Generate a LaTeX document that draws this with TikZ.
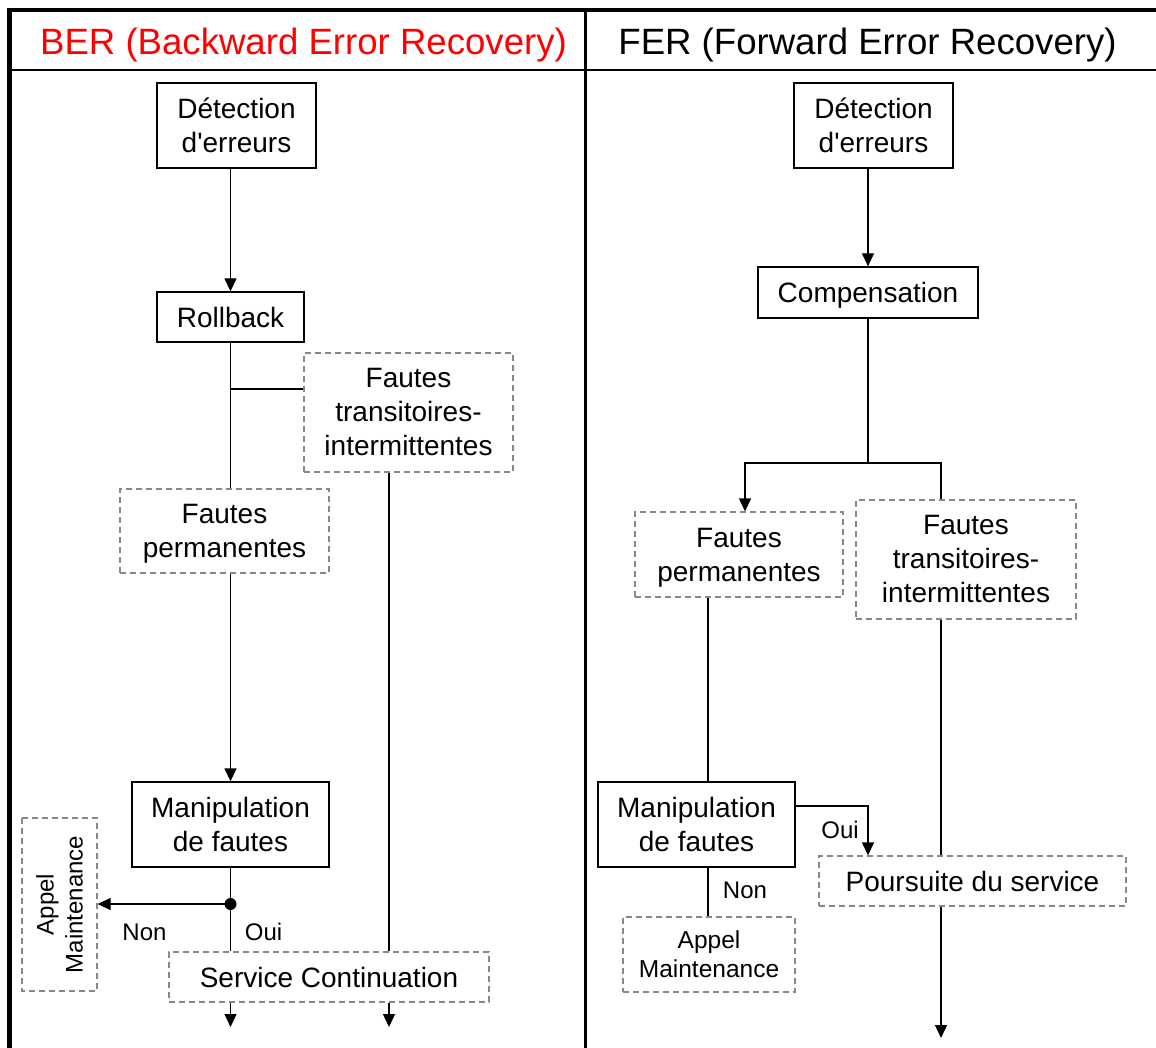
\documentclass[tikz,border=0pt]{standalone}
\usepackage{fontspec}
\setmainfont{Liberation Sans}[Ligatures=TeXOff]
\usetikzlibrary{arrows.meta}
\definecolor{dashgray}{HTML}{888888}
\begin{document}
\begin{tikzpicture}[x=1pt,y=-1pt,
  solidbox/.style={draw=black, line width=1.3pt, inner sep=0pt, align=center, font=\fontsize{28}{34}\selectfont},
  dashbox/.style={draw=dashgray, line width=1.3pt, dash pattern=on 6pt off 4pt, inner sep=0pt, align=center, font=\fontsize{28}{34}\selectfont},
  conn/.style={line width=1.3pt},
  arr/.style={conn, -{Triangle[length=13pt,width=12pt]}},
  lbl/.style={inner sep=0pt, font=\fontsize{24}{29}\selectfont},
  titletxt/.style={anchor=base, inner sep=0pt, font=\fontsize{36.6}{44}\selectfont}]
\useasboundingbox (0,0) rectangle (1156,1048);
\fill[white] (0,0) rectangle (1156,1048);
% frame
\draw[line width=4pt] (7,10) -- (1156,10);
\draw[line width=4.5pt] (9.5,8) -- (9.5,1048);
\draw[line width=3pt] (585.5,10) -- (585.5,1048);
\draw[line width=2pt] (10,70.5) -- (1156,70.5);
% titles
\node[titletxt, text=red] (tber) at (303.5,55) {BER (Backward Error Recovery)};
\node[titletxt] (tfer) at (867.5,55) {FER (Forward Error Recovery)};
% BER nodes
\node[solidbox, minimum width=159pt, minimum height=85pt] (d1) at (236.5,125.5) {Détection\\d'erreurs};
\node[solidbox, minimum width=147pt, minimum height=50pt] (rb) at (230.5,317) {Rollback};
\node[dashbox, minimum width=209pt, minimum height=119pt] (ft1) at (408.5,412.5) {Fautes\\transitoires-\\intermittentes};
\node[dashbox, minimum width=209pt, minimum height=84pt, text depth=0pt] (fp1) at (224.5,531) {Fautes\\permanentes};
\node[solidbox, minimum width=197pt, minimum height=85pt] (mf1) at (230.5,824.5) {Manipulation\\de fautes};
\node[dashbox, rotate=90, minimum width=173pt, minimum height=75pt, font=\fontsize{24}{29}\selectfont] (am1) at (59.5,904.5) {Appel\\Maintenance};
\node[dashbox, minimum width=320pt, minimum height=50pt] (sc) at (329,977) {Service Continuation};
% FER nodes
\node[solidbox, minimum width=159pt, minimum height=85pt] (d2) at (873.5,125.5) {Détection\\d'erreurs};
\node[solidbox, minimum width=220pt, minimum height=51pt, text depth=0pt] (cp) at (868,292.5) {Compensation};
\node[dashbox, minimum width=208pt, minimum height=85pt, text depth=0pt] (fp2) at (739,554.5) {Fautes\\permanentes};
\node[dashbox, minimum width=220pt, minimum height=119pt] (ft2) at (966,559.5) {Fautes\\transitoires-\\intermittentes};
\node[solidbox, minimum width=197pt, minimum height=85pt] (mf2) at (696.5,824.5) {Manipulation\\de fautes};
\node[dashbox, minimum width=172pt, minimum height=75pt, font=\fontsize{24.5}{29}\selectfont] (am2) at (709,954.5) {Appel\\Maintenance};
\node[dashbox, minimum width=307pt, minimum height=50pt] (ps) at (972.5,881) {Poursuite du service};
% helper coordinates
\coordinate (j1) at (230.5,389);
\coordinate (dot) at (230.5,904);
\coordinate (x389) at (389,0);
\coordinate (e1) at (230.5,1027);
\coordinate (e2) at (389,1027);
\coordinate (j2) at (868,463);
\coordinate (x745) at (745,0);
\coordinate (x941) at (941,0);
\coordinate (x708) at (708,0);
\coordinate (y806) at (0,806);
\coordinate (e3) at (941,1038);
% BER connectors
\draw[arr] (d1.south -| rb) -- (rb.north);
\draw[conn] (rb.south) -- (rb.south |- fp1.north);
\draw[conn] (j1) -- (j1 -| ft1.west);
\draw[arr] (fp1.south -| mf1) -- (mf1.north);
\draw[conn] (mf1.south) -- (mf1.south |- sc.north);
\fill (dot) circle (6pt);
\draw[arr] (dot) -- (dot -| am1.south);
\draw[conn] (ft1.south -| x389) -- (sc.north -| x389);
\draw[arr] (sc.south -| e1) -- (e1);
\draw[arr] (sc.south -| e2) -- (e2);
\node[lbl] (non1) at (144.5,932) {Non};
\node[lbl] (oui1) at (263.5,932) {Oui};
% FER connectors
\draw[arr] (d2.south -| cp) -- (cp.north);
\draw[conn] (cp.south) -- (j2);
\draw[arr] (j2) -| (fp2.north -| x745);
\draw[conn] (j2) -| (ft2.north -| x941);
\draw[conn] (fp2.south -| x708) -- (mf2.north -| x708);
\draw[conn] (mf2.south -| x708) -- (am2.north -| x708);
\draw[arr] (mf2.east |- y806) -| (ps.north -| cp);
\draw[conn] (ft2.south -| x941) -- (ps.north -| x941);
\draw[arr] (ps.south -| x941) -- (e3);
\node[lbl] (oui2) at (840,830) {Oui};
\node[lbl] (non2) at (745,890) {Non};
\end{tikzpicture}
\end{document}
